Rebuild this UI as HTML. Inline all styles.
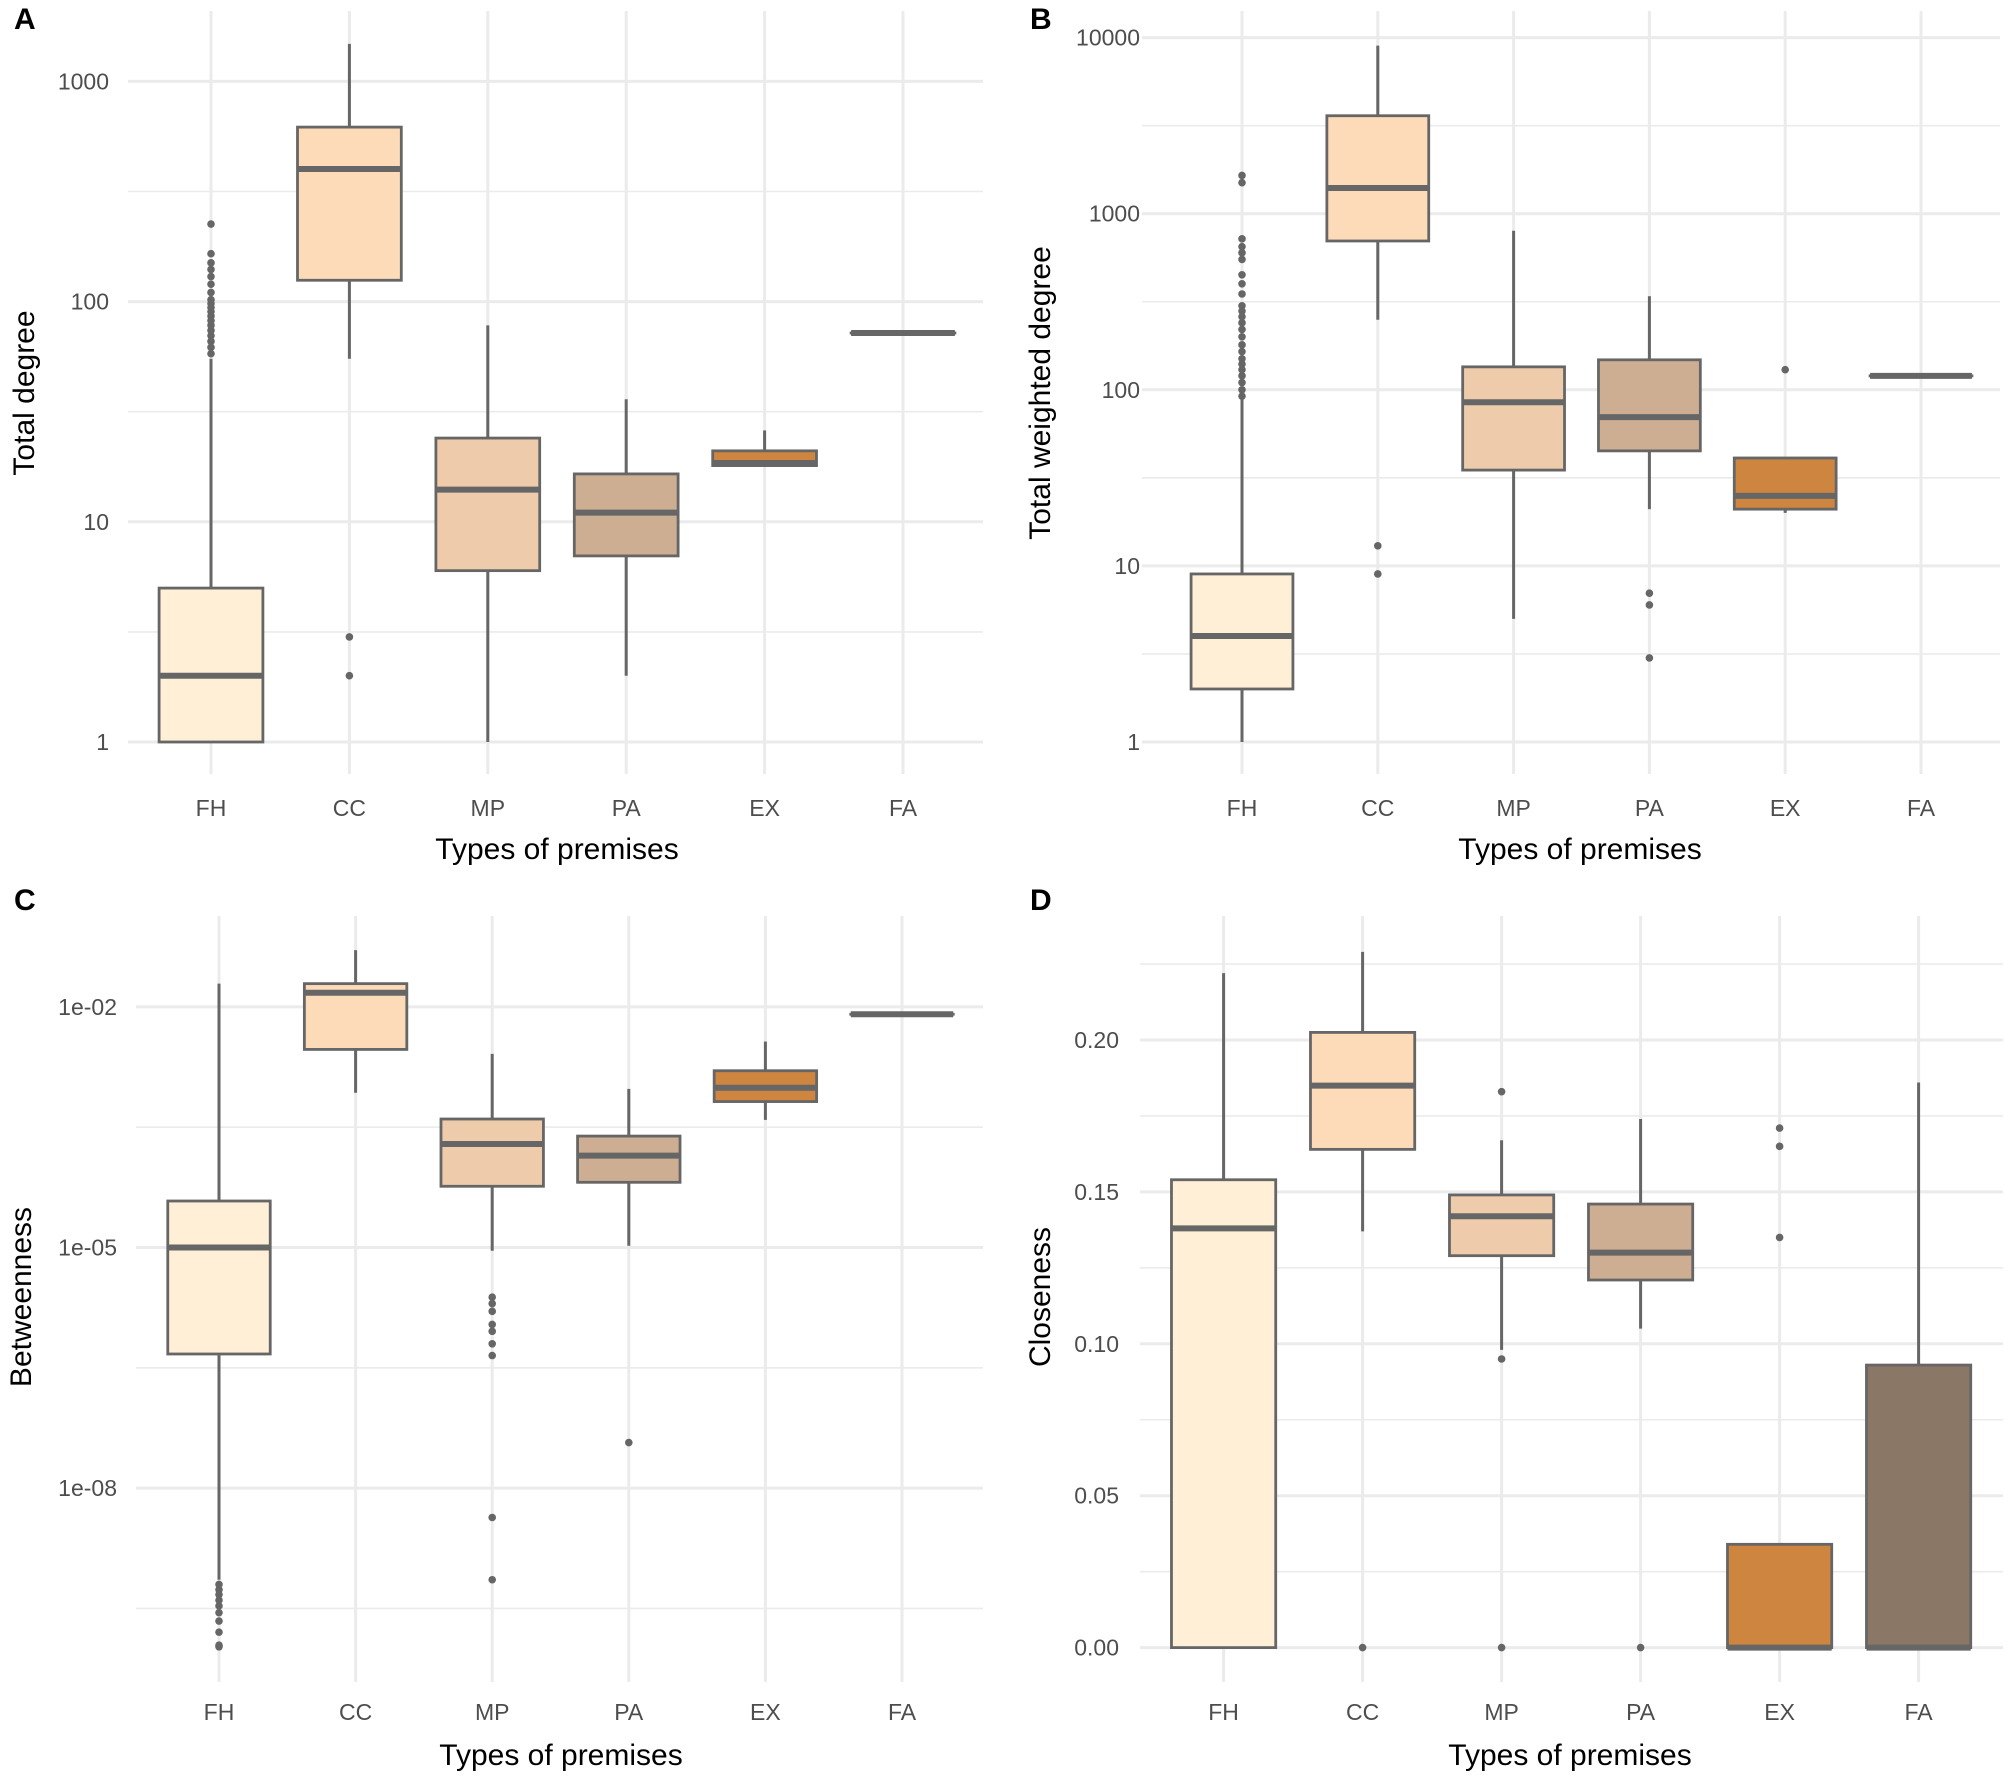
<!DOCTYPE html>
<html><head><meta charset="utf-8">
<style>
html,body{margin:0;padding:0;background:#fff;}
svg{display:block;font-family:"Liberation Sans",Arial,sans-serif;}
</style></head>
<body>
<svg id="fig" width="2008" height="1786" viewBox="0 0 2008 1786" xmlns="http://www.w3.org/2000/svg"></svg>
<script>
// ---------- shared data ----------
const categories = ["FH","CC","MP","PA","EX","FA"];
const fills = ["#FFEFD7","#FDDBB8","#EECBAB","#CDAE93","#CD853F","#8B7765"];

// Panel A: Total degree
const aLo  = [1, 55, 1, 2, 18, 72];
const aQ1  = [1, 125, 6, 7, 18, 72];
const aMed = [2, 400, 14, 11, 18.5, 72];
const aQ3  = [5, 620, 24, 16.5, 21, 72];
const aHi  = [55, 1480, 78, 36, 26, 72];
const aOut = [[58,62,66,70,74,78,82,86,90,94,98,102,110,120,130,140,150,165,225],[3,2],[],[],[],[]];
const aTicks = [1,10,100,1000];
const aTickLabels = ["1","10","100","1000"];

// Panel B: Total weighted degree
const bLo  = [1, 250, 5, 21, 20, 120];
const bQ1  = [2, 700, 35, 45, 21, 120];
const bMed = [4, 1400, 85, 70, 25, 120];
const bQ3  = [9, 3600, 135, 148, 41, 120];
const bHi  = [89, 9000, 800, 340, 41, 120];
const bOut = [[92,100,110,120,130,140,150,165,180,200,220,240,260,280,300,350,400,450,550,600,650,720,1500,1650],[13,9],[],[7,6,3],[130],[]];
const bTicks = [1,10,100,1000,10000];
const bTickLabels = ["1","10","100","1000","10000"];

// Panel C: Betweenness
const cLo  = [7.2e-10, 8.5e-4, 9.1e-6, 1.05e-5, 3.9e-4, 8.1e-3];
const cQ1  = [4.7e-7, 2.95e-3, 5.8e-5, 6.5e-5, 6.6e-4, 8.1e-3];
const cMed = [1e-5, 1.5e-2, 1.95e-4, 1.4e-4, 9.8e-4, 8.1e-3];
const cQ3  = [3.8e-5, 1.95e-2, 4e-4, 2.45e-4, 1.6e-3, 8.1e-3];
const cHi  = [1.95e-2, 5.1e-2, 2.6e-3, 9.5e-4, 3.7e-3, 8.1e-3];
const cOut = [[6.3e-10,5.4e-10,4.7e-10,4e-10,3.4e-10,2.8e-10,2.2e-10,1.6e-10,1.1e-10,1.05e-10],[],[2.4e-6,2e-6,1.6e-6,1.1e-6,9e-7,6.3e-7,4.5e-7,4.3e-9,7.2e-10],[3.7e-8],[],[]];
const cTicks = [1e-8,1e-5,1e-2];
const cTickLabels = ["1e-08","1e-05","1e-02"];

// Panel D: Closeness
const dLo  = [0, 0.137, 0.098, 0.105, 0, 0];
const dQ1  = [0, 0.164, 0.129, 0.121, 0, 0];
const dMed = [0.138, 0.185, 0.142, 0.130, 0, 0];
const dQ3  = [0.154, 0.2025, 0.149, 0.146, 0.034, 0.093];
const dHi  = [0.222, 0.229, 0.167, 0.174, 0.034, 0.186];
const dOut = [[],[0],[0.183,0.095,0],[0],[0.171,0.165,0.135],[]];
const dTicks = [0,0.05,0.10,0.15,0.20];
const dTickLabels = ["0.00","0.05","0.10","0.15","0.20"];

// ---------- drawing ----------
const NS = "http://www.w3.org/2000/svg";
const svg = document.getElementById("fig");
function mk(tag, attrs, parent){
  const e = document.createElementNS(NS, tag);
  for (const k in attrs) e.setAttribute(k, attrs[k]);
  (parent||svg).appendChild(e);
  return e;
}

function panel(cfg){
  const g = mk("g", {});
  
  
  const y = cfg.y;
  cfg.minor.forEach(v=>{
    const l = mk("line",{x1:cfg.left,x2:cfg.right,y1:y(v),y2:y(v),stroke:"#EBEBEB","stroke-width":1.6},g);
    
    
  });
  cfg.ticks.forEach((v,i)=>{
    const l = mk("line",{x1:cfg.left,x2:cfg.right,y1:y(v),y2:y(v),stroke:"#EBEBEB","stroke-width":3},g);
    
    
    const t = mk("text",{x:cfg.tickRight,y:y(v)+8,"text-anchor":"end","font-size":23,fill:"#4D4D4D"},g);
    t.textContent = cfg.tickLabels[i];
    
    
  });
  const cx = i => cfg.x0 + i*cfg.dx;
  const bw = cfg.dx*0.75;
  categories.forEach((c,i)=>{
    const l = mk("line",{x1:cx(i),x2:cx(i),y1:cfg.top,y2:cfg.bottom,stroke:"#EBEBEB","stroke-width":3},g);
    
    
    const t = mk("text",{x:cx(i),y:cfg.xLabelY,"text-anchor":"middle","font-size":23,fill:"#4D4D4D"},g);
    t.textContent = c;
    
    
  });
  categories.forEach((c,i)=>{
    const bg = mk("g",{},g);
    
    
    const x = cx(i);
    const w1 = mk("line",{x1:x,x2:x,y1:y(cfg.hi[i]),y2:y(cfg.q3[i]),stroke:"#666","stroke-width":3},bg);
    
    
    const w2 = mk("line",{x1:x,x2:x,y1:y(cfg.q1[i]),y2:y(cfg.lo[i]),stroke:"#666","stroke-width":3},bg);
    
    
    const top = y(cfg.q3[i]), bot = y(cfg.q1[i]);
    const r = mk("rect",{x:x-bw/2,y:top,width:bw,height:Math.max(bot-top,0.01),fill:fills[i],stroke:"#666","stroke-width":2.8},bg);
    
    
    const m = mk("line",{x1:x-bw/2,x2:x+bw/2,y1:y(cfg.med[i]),y2:y(cfg.med[i]),stroke:"#666","stroke-width":6},bg);
    
    
    cfg.out[i].forEach(v=>{
      const p = mk("circle",{cx:x,cy:y(v),r:3.8,fill:"#666"},bg);
      
      
    });
  });
  const yt = mk("text",{x:0,y:0,"text-anchor":"middle","font-size":30,fill:"#000",transform:`translate(${cfg.yTitleX},${cfg.yTitleY}) rotate(-90)`},g);
  yt.textContent = cfg.yTitle;
  
  
  const xt = mk("text",{x:cfg.xTitleX,y:cfg.xTitleY,"text-anchor":"middle","font-size":30,fill:"#000"},g);
  xt.textContent = "Types of premises";
  
  
  const pl = mk("text",{x:cfg.labX,y:cfg.labY,"font-size":30,"font-weight":"bold",fill:"#000"},g);
  pl.textContent = cfg.letter;
  
  
}

const L = Math.log10;
panel({name:"panel-a-total-degree",letter:"A",labX:14,labY:29,
  y:v=>742-220.2*L(v),ticks:aTicks,tickLabels:aTickLabels,minor:[Math.sqrt(10),Math.sqrt(1000),Math.sqrt(1e5)],
  left:128,right:983,top:11,bottom:774,tickRight:109,x0:211,dx:138.4,xLabelY:816,
  lo:aLo,q1:aQ1,med:aMed,q3:aQ3,hi:aHi,out:aOut,
  yTitle:"Total degree",yTitleX:34,yTitleY:393,xTitleX:557,xTitleY:859});
panel({name:"panel-b-total-weighted-degree",letter:"B",labX:1030,labY:29,
  y:v=>742-176.1*L(v),ticks:bTicks,tickLabels:bTickLabels,minor:[Math.sqrt(10),Math.sqrt(1000),Math.sqrt(1e5),Math.sqrt(1e7)],
  left:1142,right:2000,top:11,bottom:774,tickRight:1140,x0:1242,dx:135.8,xLabelY:816,
  lo:bLo,q1:bQ1,med:bMed,q3:bQ3,hi:bHi,out:bOut,
  yTitle:"Total weighted degree",yTitleX:1050,yTitleY:393,xTitleX:1580,xTitleY:859});
panel({name:"panel-c-betweenness",letter:"C",labX:14,labY:910,
  y:v=>1006.9-80.2*(L(v)+2),ticks:cTicks,tickLabels:cTickLabels,minor:[Math.pow(10,-3.5),Math.pow(10,-6.5),Math.pow(10,-9.5)],
  left:136,right:983,top:916,bottom:1682,tickRight:117,x0:219,dx:136.6,xLabelY:1720,
  lo:cLo,q1:cQ1,med:cMed,q3:cQ3,hi:cHi,out:cOut,
  yTitle:"Betweenness",yTitleX:31,yTitleY:1297,xTitleX:561,xTitleY:1765});
panel({name:"panel-d-closeness",letter:"D",labX:1030,labY:910,
  y:v=>1647.6-v*3038,ticks:dTicks,tickLabels:dTickLabels,minor:[0.025,0.075,0.125,0.175,0.225],
  left:1140,right:2003,top:916,bottom:1682,tickRight:1119,x0:1223.6,dx:139,xLabelY:1720,
  lo:dLo,q1:dQ1,med:dMed,q3:dQ3,hi:dHi,out:dOut,
  yTitle:"Closeness",yTitleX:1050,yTitleY:1297,xTitleX:1570,xTitleY:1765});
</script>
</body></html>
